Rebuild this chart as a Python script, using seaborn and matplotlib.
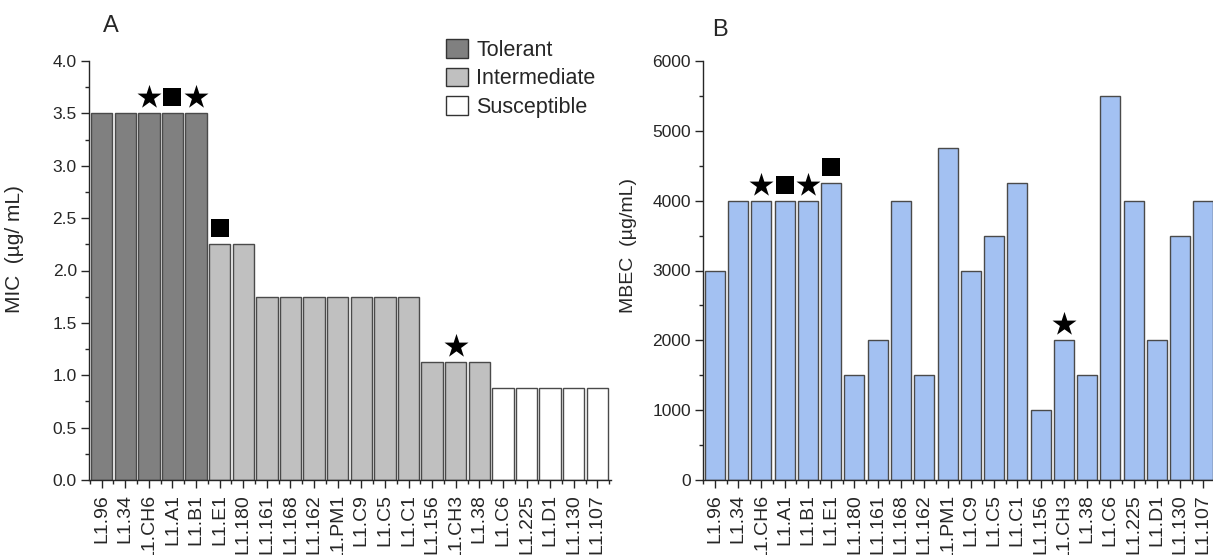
import numpy as np
import pandas as pd
import matplotlib
matplotlib.use("Agg")
import matplotlib.pyplot as plt
from matplotlib.patches import Patch
from matplotlib.ticker import MultipleLocator, FormatStrFormatter
from matplotlib.transforms import offset_copy
import seaborn as sns

# Isolates in plotting order
strains = ["L1.96", "L1.34", "L1.CH6", "L1.A1", "L1.B1", "L1.E1", "L1.180",
           "L1.161", "L1.168", "L1.162", "L1.PM1", "L1.C9", "L1.C5", "L1.C1",
           "L1.156", "L1.CH3", "L1.38", "L1.C6", "L1.225", "L1.D1", "L1.130",
           "L1.107"]

# Minimum inhibitory concentration (µg/mL)
mic = [3.5, 3.5, 3.5, 3.5, 3.5, 2.25, 2.25, 1.75, 1.75, 1.75, 1.75, 1.75,
       1.75, 1.75, 1.125, 1.125, 1.125, 0.875, 0.875, 0.875, 0.875, 0.875]

# Minimum biofilm eradication concentration (µg/mL)
mbec = [3000, 4000, 4000, 4000, 4000, 4250, 1500, 2000, 4000, 1500, 4750,
        3000, 3500, 4250, 1000, 2000, 1500, 5500, 4000, 2000, 3500, 4000]

# Tolerance class per isolate
category = (["Tolerant"] * 5 + ["Intermediate"] * 12 + ["Susceptible"] * 5)
class_order = ["Tolerant", "Intermediate", "Susceptible"]

# Isolates flagged with symbols above the bars
star_strains = ["L1.CH6", "L1.B1", "L1.CH3"]
square_strains = ["L1.A1", "L1.E1"]

df = pd.DataFrame({"strain": strains, "mic": mic, "mbec": mbec,
                   "category": category})

sns.set_style("ticks")
plt.rcParams["font.family"] = ["Liberation Sans", "DejaVu Sans"]
plt.rcParams["axes.linewidth"] = 1.0

class_colors = {"Tolerant": "#808080", "Intermediate": "#c0c0c0",
                "Susceptible": "#ffffff"}
edge = "#4a4a4a"
blue = "#a3c1f2"

W, H = 1213, 555
fig = plt.figure(figsize=(W / 100, H / 100), dpi=100)

axA = fig.add_axes([89.3 / W, 75 / H, 521.7 / W, 419 / H])
axB = fig.add_axes([703.3 / W, 75 / H, 514.0 / W, 419 / H])

sns.barplot(data=df, x="strain", y="mic", hue="category", hue_order=class_order,
            palette=class_colors, order=strains, dodge=False, saturation=1,
            width=0.9, edgecolor=edge, linewidth=1.0, legend=False, ax=axA)
sns.barplot(data=df, x="strain", y="mbec", order=strains, color=blue,
            saturation=1, width=0.86, edgecolor=edge, linewidth=1.0, ax=axB)

pos = {s: i for i, s in enumerate(strains)}


def add_flags(ax, values):
    lift = offset_copy(ax.transData, fig=fig, x=0, y=16, units="dots")
    xs = [pos[s] for s in star_strains]
    ys = [values[pos[s]] for s in star_strains]
    ax.scatter(xs, ys, marker="*", s=330, color="black", linewidths=0,
               transform=lift, clip_on=False, zorder=5)
    xs = [pos[s] for s in square_strains]
    ys = [values[pos[s]] for s in square_strains]
    ax.scatter(xs, ys, marker="s", s=175, color="black", linewidths=0,
               transform=lift, clip_on=False, zorder=5)


add_flags(axA, mic)
add_flags(axB, mbec)

n = len(strains)
for ax, xl in ((axA, (-0.525, 21.58)), (axB, (-0.47, 21.6))):
    ax.set_xlim(*xl)
    ax.set_xticks(range(n))
    ax.set_xticklabels(strains, rotation=90, fontsize=14)
    ax.set_xticks(np.arange(-0.5, n, 1.0), minor=True)
    ax.set_xlabel("")
    for s in ("top", "right"):
        ax.spines[s].set_visible(False)
    ax.tick_params(axis="both", which="major", direction="out", length=6,
                   width=1.0, labelsize=12.5, pad=3)
    ax.tick_params(axis="both", which="minor", direction="out", length=3,
                   width=1.0)
    ax.tick_params(axis="x", which="major", pad=4, labelsize=14)

axA.set_ylim(0, 4.0)
axA.yaxis.set_major_locator(MultipleLocator(0.5))
axA.yaxis.set_minor_locator(MultipleLocator(0.25))
axA.yaxis.set_major_formatter(FormatStrFormatter("%.1f"))
axA.set_ylabel("MIC  (\u00b5g/ mL)", fontsize=15)
axA.yaxis.set_label_coords(-0.125, 0.55)

axB.set_ylim(0, 6000)
axB.yaxis.set_major_locator(MultipleLocator(1000))
axB.yaxis.set_minor_locator(MultipleLocator(500))
axB.set_ylabel("MBEC  (\u00b5g/mL)", fontsize=14)
axB.yaxis.set_label_coords(-0.129, 0.56)

handles = [Patch(facecolor=class_colors[c], edgecolor="#333333", linewidth=1.0,
                 label=c) for c in class_order]
fig.legend(handles=handles, loc="upper left",
           bbox_to_anchor=(446 / W, 1 - 39 / H), frameon=False, fontsize=15.5,
           handlelength=1.0, handleheight=0.95, labelspacing=0.32,
           handletextpad=0.4, borderaxespad=0, borderpad=0)

fig.text(111 / W, 1 - 26 / H, "A", fontsize=17, ha="center", va="center")
fig.text(720 / W, 1 - 30 / H, "B", fontsize=17, ha="center", va="center")

fig.savefig("out.png", dpi=100)
